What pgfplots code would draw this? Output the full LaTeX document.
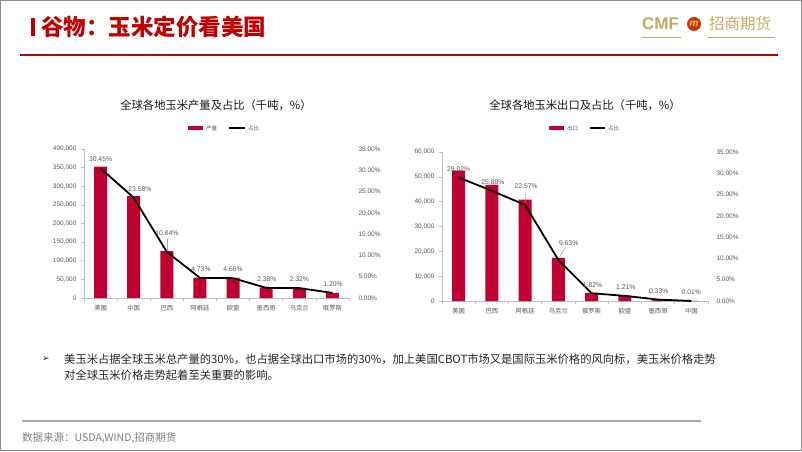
\documentclass[border=0pt]{standalone}
\usepackage{fontspec}
\usepackage{pgfplots}
\pgfplotsset{compat=1.18}
\setmainfont{Liberation Sans}
\newfontfamily\cjk{Noto Sans CJK SC}
\newfontfamily\dejavu{DejaVu Sans}
\definecolor{barred}{RGB}{192,0,48}
\definecolor{titlered}{RGB}{192,0,0}
\definecolor{gold}{RGB}{201,168,98}
\definecolor{axisgray}{RGB}{191,191,191}
\definecolor{labelgray}{RGB}{89,89,89}
\definecolor{textdark}{RGB}{38,38,38}
\definecolor{logored}{RGB}{205,50,20}
\tikzset{pctlabel/.style={font=\fontsize{6.8}{7}\selectfont, text=labelgray, inner sep=0.5pt}}
\pgfplotsset{
  chartbase/.style={
    scale only axis, anchor=south west,
    xmin=-0.5, xmax=7.5,
    tick align=outside,
    major tick length=3pt,
  },
  barbase/.style={
    axis y line*=left, axis x line*=bottom,
    axis line style={draw=axisgray, line width=0.6pt},
    xtick={0,...,7},
    xtick style={draw=none},
    xticklabel style={font=\cjk\fontsize{6.3}{7}\selectfont, text=labelgray, yshift=-1pt},
    extra x ticks={-0.5,0.5,...,7.5},
    extra x tick style={xtick style={draw=axisgray, line width=0.6pt}, xticklabel={}},
    ytick style={draw=axisgray, line width=0.6pt},
    scaled y ticks=false,
    yticklabel style={font=\fontsize{6.5}{7}\selectfont, text=labelgray, xshift=-1pt},
  },
  linebase/.style={
    axis y line*=right, axis x line=none, xtick=\empty,
    y axis line style={draw=none}, ytick style={draw=none},
    ymin=0, ymax=35, ytick={0,5,...,35},
    yticklabels={0.00\%,5.00\%,10.00\%,15.00\%,20.00\%,25.00\%,30.00\%,35.00\%},
    clip=false,
  },
}
\begin{document}
\begin{tikzpicture}[x=1pt,y=1pt]
\path[fill=white] (0,0) rectangle (802,451);
\draw[black!45, line width=1pt] (0.5,0.5) rectangle (801.5,450.5);
% ---------- header
\fill[titlered] (31,415) rectangle (34.5,433);
\node[anchor=west, inner sep=0, text=titlered, font=\cjk\bfseries\fontsize{22.5}{24}\selectfont] at (41,424) {谷物：玉米定价看美国};
\node[anchor=west, inner sep=0, text=gold, font=\bfseries\fontsize{17}{18}\selectfont] at (642,427) {CMF};
\draw[gold, line width=0.8pt] (642,414) -- (681,414);
\fill[logored] (694,427) circle (7);
\node[text=gold!50!yellow, font=\bfseries\itshape\fontsize{10}{10}\selectfont, inner sep=0] at (694,427.5) {m};
\node[anchor=west, inner sep=0, text=gold, font=\cjk\fontsize{15.5}{16}\selectfont] at (709,427) {招商期货};
\draw[gold, line width=0.8pt] (708,414) -- (775,414);
\draw[titlered, line width=1.3pt] (20,396) -- (778,396);
% ---------- chart titles and legends
\node[font=\cjk\fontsize{11.3}{12}\selectfont, text=black!90] at (216,346) {全球各地玉米产量及占比（千吨，\%）};
\node[font=\cjk\fontsize{11.3}{12}\selectfont, text=black!90] at (585,346) {全球各地玉米出口及占比（千吨，\%）};
\draw[barred, line width=4pt] (188,323) -- (203,323);
\node[anchor=west, inner sep=0, font=\cjk\fontsize{5.5}{6}\selectfont, text=labelgray] at (206,323) {产量};
\draw[black, line width=1.8pt] (229,323) -- (245,323);
\node[anchor=west, inner sep=0, font=\cjk\fontsize{5.5}{6}\selectfont, text=labelgray] at (248,323) {占比};
\draw[barred, line width=4pt] (549,323) -- (564,323);
\node[anchor=west, inner sep=0, font=\cjk\fontsize{5.5}{6}\selectfont, text=labelgray] at (567,323) {出口};
\draw[black, line width=1.8pt] (590,323) -- (605,323);
\node[anchor=west, inner sep=0, font=\cjk\fontsize{5.5}{6}\selectfont, text=labelgray] at (608,323) {占比};
% ---------- left chart: bars
\begin{axis}[chartbase, barbase, at={(84pt,153pt)}, width=265pt, height=149pt,
  ymin=0, ymax=400000,
  xticklabels={美国,中国,巴西,阿根廷,欧盟,墨西哥,乌克兰,俄罗斯},
  ytick={0,50000,100000,150000,200000,250000,300000,350000,400000},
  yticklabels={0,{50,000},{100,000},{150,000},{200,000},{250,000},{300,000},{350,000},{400,000}},
]
\addplot[ybar, bar width=13pt, fill=barred, draw=none] coordinates {
  (0,353000) (1,273300) (2,125600) (3,54800) (4,54000) (5,27600) (6,26900) (7,13900)};
\end{axis}
% ---------- left chart: share line
\begin{axis}[chartbase, linebase, at={(84pt,153pt)}, width=265pt, height=149pt,
  yticklabel style={font=\fontsize{6.5}{7}\selectfont, text=labelgray, xshift=3pt},
]
\addplot[black, line width=1.8pt] coordinates {
  (0,30.45) (1,23.58) (2,10.84) (3,4.73) (4,4.66) (5,2.38) (6,2.32) (7,1.20)};
\draw[gray!70, line width=0.5pt] (axis cs:2,13.9) -- (axis cs:2,11.3);
\node[pctlabel] at (axis cs:0,32.65) {30.45\%};
\node[pctlabel] at (axis cs:1.19,25.6) {23.58\%};
\node[pctlabel] at (axis cs:2.0,15.27) {10.84\%};
\node[pctlabel] at (axis cs:3.03,6.81) {4.73\%};
\node[pctlabel] at (axis cs:4.0,6.81) {4.66\%};
\node[pctlabel] at (axis cs:5.02,4.46) {2.38\%};
\node[pctlabel] at (axis cs:6.0,4.46) {2.32\%};
\node[pctlabel] at (axis cs:7.02,3.29) {1.20\%};
\end{axis}
% ---------- right chart: bars
\begin{axis}[chartbase, barbase, at={(442pt,150pt)}, width=266pt, height=149pt,
  ymin=0, ymax=60000,
  xticklabels={美国,巴西,阿根廷,乌克兰,俄罗斯,欧盟,墨西哥,中国},
  ytick={0,10000,20000,30000,40000,50000,60000},
  yticklabels={0,{10,000},{20,000},{30,000},{40,000},{50,000},{60,000}},
]
\addplot[ybar, bar width=13pt, fill=barred, draw=none] coordinates {
  (0,52500) (1,46800) (2,40800) (3,17400) (4,3300) (5,2200) (6,600) (7,20)};
\end{axis}
% ---------- right chart: share line
\begin{axis}[chartbase, linebase, at={(442pt,150pt)}, width=266pt, height=149pt,
  yticklabel style={font=\fontsize{6.5}{7}\selectfont, text=labelgray, xshift=2pt},
]
\addplot[black, line width=1.8pt] coordinates {
  (0,29.02) (1,25.88) (2,22.57) (3,9.63) (4,1.82) (5,1.21) (6,0.33) (7,0.01)};
\draw[gray!70, line width=0.5pt] (axis cs:2.03,25.7) -- (axis cs:2.0,23.0);
\draw[gray!70, line width=0.5pt] (axis cs:3.2,12.5) -- (axis cs:3.03,10.2);
\node[pctlabel] at (axis cs:0,31.0) {29.02\%};
\node[pctlabel] at (axis cs:1.03,27.95) {25.88\%};
\node[pctlabel] at (axis cs:2.03,27.0) {22.57\%};
\node[pctlabel] at (axis cs:3.31,13.62) {9.63\%};
\node[pctlabel] at (axis cs:4.03,3.76) {1.82\%};
\node[pctlabel] at (axis cs:5.03,3.29) {1.21\%};
\node[pctlabel] at (axis cs:6.02,2.35) {0.33\%};
\node[pctlabel] at (axis cs:7.0,2.11) {0.01\%};
\end{axis}
% ---------- bottom text
\node[anchor=west, inner sep=0, font=\dejavu\fontsize{9}{10}\selectfont, text=textdark] at (42,92) {➢};
\node[anchor=west, inner sep=0, font=\cjk\fontsize{11.3}{13}\selectfont, text=textdark] at (64,92) {美玉米占据全球玉米总产量的30\%，也占据全球出口市场的30\%，加上美国CBOT市场又是国际玉米价格的风向标，美玉米价格走势};
\node[anchor=west, inner sep=0, font=\cjk\fontsize{11.3}{13}\selectfont, text=textdark] at (64,76) {对全球玉米价格走势起着至关重要的影响。};
\draw[black!35, line width=1.5pt] (22,30) -- (701,30);
\node[anchor=west, inner sep=0, font=\cjk\fontsize{10.5}{12}\selectfont, text=black!50] at (22,13) {数据来源：USDA,WIND,招商期货};
\end{tikzpicture}
\end{document}
